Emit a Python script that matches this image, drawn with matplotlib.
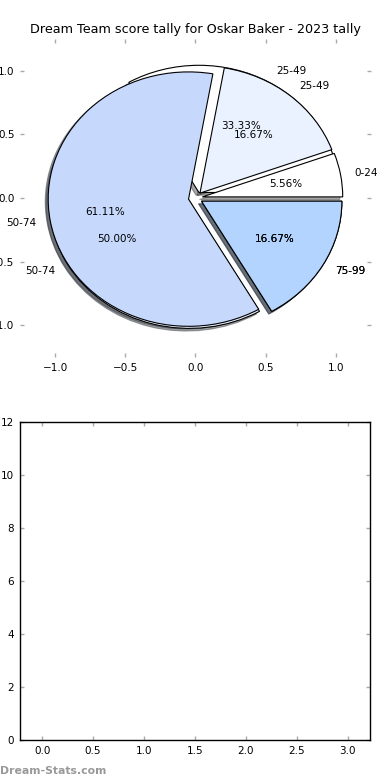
import matplotlib
matplotlib.use('Agg')
from matplotlib import pyplot as plt

#%% Data
playerName = 'Oskar Baker'
season = '2023'
labels1 = ['0-24', '25-49', '50-74', '75-99']
counts1 = [1, 3, 11, 3]
labels2 = ['25-49', '50-74', '75-99']
counts2 = [2, 3, 1]
sliceColors = ['#ffffff', '#eaf1ff', '#c6d9fd', '#b3d4ff']
barX = [0, 1, 2, 3]
barVals = [0, 0, 0, 0]

#%% Figure
fig = plt.figure(figsize=(3.9, 7.8), dpi=100)
plt.rcParams['font.size'] = 7.5
shadowOpts = {'ox': -0.015, 'oy': -0.015}

ax1 = fig.add_axes([0.0513, 0.5423, 0.8997, 0.4077])
ax1.pie(counts2, labels=labels2, colors=sliceColors, autopct='%.2f%%',
        explode=[0.05] * len(counts2), shadow=shadowOpts, frame=True,
        wedgeprops={'edgecolor': 'black', 'linewidth': 0.8},
        textprops={'fontsize': 7.5})
ax1.pie(counts1, labels=labels1, colors=sliceColors, autopct='%.2f%%',
        explode=[0.05] * len(counts1), shadow=shadowOpts, frame=True,
        wedgeprops={'edgecolor': 'black', 'linewidth': 0.8},
        textprops={'fontsize': 7.5})
ax1.set_aspect('auto')
ax1.set_frame_on(False)
ax1.set_xlim(-1.25, 1.25)
ax1.set_ylim(-1.25, 1.25)
ax1.set_xticks([-1.0, -0.5, 0.0, 0.5, 1.0])
ax1.set_yticks([-1.0, -0.5, 0.0, 0.5, 1.0])
ax1.tick_params(direction='in', color='#aaaaaa', length=3, width=1,
                top=True, right=True, labelsize=7.5, pad=4)
ax1.set_title('Dream Team score tally for ' + playerName + ' - ' + season + ' tally',
              fontsize=9.2, pad=4)

ax2 = fig.add_axes([0.0505, 0.0513, 0.8985, 0.4081])
ax2.bar(barX, barVals, width=0.45, color=sliceColors[3])
ax2.set_xlim(-0.22, 3.22)
ax2.set_ylim(0, 12)
ax2.set_xticks([0.0, 0.5, 1.0, 1.5, 2.0, 2.5, 3.0])
ax2.set_yticks([0, 2, 4, 6, 8, 10, 12])
ax2.tick_params(direction='in', color='#aaaaaa', length=3, width=1,
                top=True, right=True, labelsize=7.5, pad=4)
for s in ax2.spines.values():
    s.set_linewidth(1)

fig.text(0.0, 0.005, 'Dream-Stats.com', color='#999999', fontsize=7.8,
         fontweight='bold', ha='left', va='bottom')

plt.savefig('out.png', dpi=100)
